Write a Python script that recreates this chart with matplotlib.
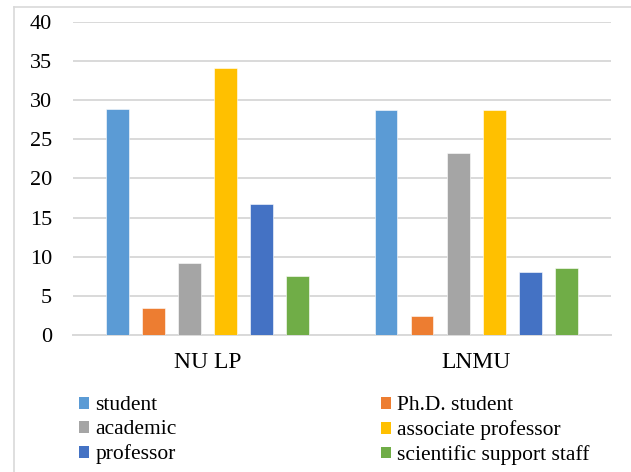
import numpy as np
import matplotlib.pyplot as plt
from matplotlib.patches import Patch
from matplotlib.lines import Line2D

plt.rcParams['font.family'] = ['Liberation Serif', 'DejaVu Serif']

universities = ['NU LP', 'LNMU']
groups = ['student', 'Ph.D. student', 'academic', 'associate professor',
          'professor', 'scientific support staff']
colors = ['#5B9BD5', '#ED7D31', '#A5A5A5', '#FFC000', '#4472C4', '#70AD47']

student = [28.9, 28.8]
phd_student = [3.5, 2.4]
academic = [9.2, 23.2]
assoc_prof = [34.1, 28.8]
professor = [16.8, 8.1]
support_staff = [7.5, 8.5]
series = [student, phd_student, academic, assoc_prof, professor, support_staff]

fig = plt.figure(figsize=(6.31, 4.72), dpi=100)
ax = fig.add_axes([0.1157, 0.2903, 0.8523, 0.6631])

x = np.arange(len(universities))
step = 0.134
w = 0.083
for i, vals in enumerate(series):
    ax.bar(x + (i - 2.5) * step, vals, width=w, color=colors[i],
           edgecolor='white', linewidth=0.4, zorder=3)

ax.set_xlim(-0.5, 1.5)
ax.set_ylim(0, 40)
ax.set_yticks(np.arange(0, 41, 5))
ax.set_xticks(x)
ax.set_xticklabels(universities, fontsize=17)
ax.grid(axis='y', color='#d9d9d9', linewidth=1.4, zorder=0)
for s in ['top', 'right', 'left']:
    ax.spines[s].set_visible(False)
ax.spines['bottom'].set_color('#d9d9d9')
ax.spines['bottom'].set_linewidth(1.4)
ax.tick_params(axis='y', length=0, labelsize=16, pad=15)
ax.tick_params(axis='x', length=0, pad=12)

# legend: two columns, filled row by row like the original
handles = [Patch(facecolor=c, edgecolor='none') for c in colors]
kw = dict(loc='upper left', frameon=False, fontsize=15.5,
          handlelength=0.47, handleheight=0.47, handletextpad=0.28,
          labelspacing=0.23, borderpad=0, borderaxespad=0)
leg1 = fig.legend(handles[0::2], groups[0::2], bbox_to_anchor=(79 / 631, 0.16), **kw)
leg2 = fig.legend(handles[1::2], groups[1::2], bbox_to_anchor=(381 / 631, 0.16), **kw)

# chart area frame (left and top edges visible in the crop)
fig.add_artist(Line2D([14 / 631, 14 / 631], [0, 1 - 7 / 472], transform=fig.transFigure,
                      color='#d9d9d9', linewidth=1.2))
fig.add_artist(Line2D([14 / 631, 1], [1 - 7 / 472, 1 - 7 / 472], transform=fig.transFigure,
                      color='#d9d9d9', linewidth=1.2))

plt.savefig('out.png', dpi=100)
